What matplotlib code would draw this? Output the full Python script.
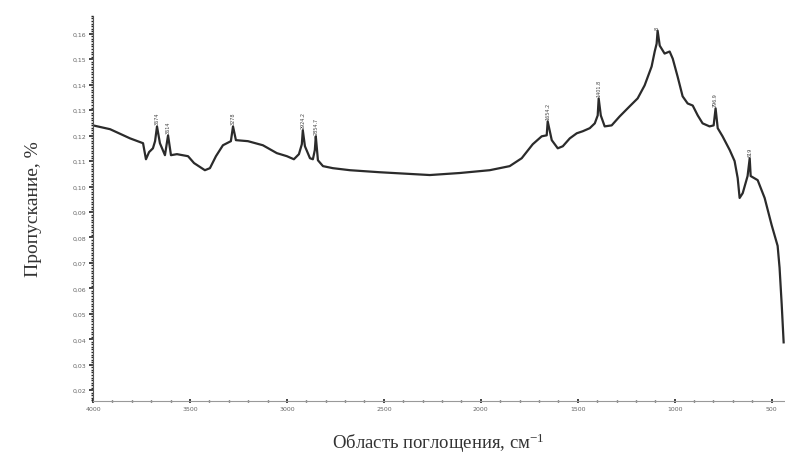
import numpy as np
import matplotlib
matplotlib.use("Agg")
import matplotlib.pyplot as plt
from matplotlib.ticker import MultipleLocator, FuncFormatter

plt.rcParams["mathtext.fontset"] = "custom"
plt.rcParams["mathtext.rm"] = "Liberation Serif"
plt.rcParams["mathtext.it"] = "Liberation Serif:italic"

# IR spectrum
wavenumber = [
    4000, 3912, 3809, 3742, 3727, 3711, 3691, 3680, 3670, 3655,
    3629, 3613, 3598, 3567, 3510, 3479, 3423, 3397, 3366, 3330,
    3289, 3278, 3263, 3201, 3124, 3052, 3000, 2964, 2938, 2923,
    2918, 2907, 2881, 2866, 2856, 2851, 2840, 2814, 2763, 2675,
    2521, 2263, 2108, 1954, 1851, 1789, 1732, 1686, 1660, 1655,
    1634, 1603, 1577, 1541, 1505, 1474, 1438, 1412, 1397, 1392,
    1381, 1361, 1325, 1284, 1232, 1191, 1155, 1119, 1103, 1093,
    1088, 1077, 1052, 1026, 1010, 985, 959, 933, 907, 881,
    856, 820, 799, 789, 778, 753, 716, 691, 675, 665,
    649, 624, 613, 608, 572, 536, 500, 469, 459, 448,
    438,
]
transmittance = [
    0.1240, 0.1225, 0.1189, 0.1170, 0.1107, 0.1135, 0.1150, 0.1178, 0.1236, 0.1170,
    0.1123, 0.1201, 0.1123, 0.1127, 0.1119, 0.1092, 0.1064, 0.1072, 0.1119, 0.1162,
    0.1178, 0.1236, 0.1182, 0.1178, 0.1162, 0.1131, 0.1119, 0.1107, 0.1127, 0.1166,
    0.1221, 0.1158, 0.1111, 0.1107, 0.1143, 0.1197, 0.1103, 0.1080, 0.1072, 0.1064,
    0.1056, 0.1045, 0.1053, 0.1064, 0.1080, 0.1111, 0.1166, 0.1197, 0.1201, 0.1256,
    0.1182, 0.1150, 0.1158, 0.1189, 0.1209, 0.1217, 0.1229, 0.1248, 0.1279, 0.1346,
    0.1279, 0.1236, 0.1240, 0.1275, 0.1315, 0.1346, 0.1397, 0.1471, 0.1530, 0.1561,
    0.1612, 0.1553, 0.1522, 0.1530, 0.1502, 0.1432, 0.1354, 0.1326, 0.1318, 0.1279,
    0.1248, 0.1236, 0.1240, 0.1307, 0.1229, 0.1197, 0.1143, 0.1100, 0.1033, 0.0955,
    0.0974, 0.1041, 0.1111, 0.1041, 0.1025, 0.0955, 0.0849, 0.0767, 0.0681, 0.0537,
    0.0388,
]

# labelled peaks
peak_pos = [3670, 3613, 3278, 2918, 2851, 1655, 1392, 1088, 789, 613]
peak_val = [0.1236, 0.1201, 0.1236, 0.1221, 0.1197, 0.1256, 0.1346, 0.1612, 0.1307, 0.1111]
peak_text = ["3674", "3614", "3278", "2924.2", "2854.7", "1654.2", "1401.8", "8", "796.9", "619"]

fig = plt.figure(figsize=(7.85, 4.56), dpi=100)
ax = fig.add_axes([0.1185, 0.118, 0.881, 0.845])

ax.plot(wavenumber, transmittance, color="#2b2b2b", lw=1.6)

for x, y, t in zip(peak_pos, peak_val, peak_text):
    ax.text(x, y + 0.0008, t, rotation=90, ha="center", va="bottom",
            fontsize=3.5, color="#444444")

ax.set_xlim(4000, 433)
ax.set_ylim(0.0157, 0.167)

for side in ("top", "right"):
    ax.spines[side].set_visible(False)
ax.spines["left"].set_color("#555555")
ax.spines["bottom"].set_color("#999999")

ax.xaxis.set_major_locator(MultipleLocator(500))
ax.xaxis.set_minor_locator(MultipleLocator(100))
ax.yaxis.set_major_locator(MultipleLocator(0.01))
ax.yaxis.set_minor_locator(MultipleLocator(0.001))
ax.yaxis.set_major_formatter(FuncFormatter(lambda v, p: f"{v:.2f}".replace(".", ",")))
ax.xaxis.set_major_formatter(FuncFormatter(lambda v, p: f"{v:.0f}"))

ax.tick_params(axis="both", which="major", labelsize=4.5, labelcolor="#666666",
               length=3, width=1.2, color="#222222", pad=2)
ax.tick_params(axis="both", which="minor", length=1.5, width=1.0, color="#222222")
ax.tick_params(axis="x", which="both", direction="inout")

ax.set_ylabel("Пропускание, %", family="Liberation Serif", fontsize=14,
              color="#333333", labelpad=22)
ax.set_xlabel("Область поглощения, см$^{-1}$", family="Liberation Serif",
              fontsize=13.5, color="#333333", labelpad=14)

fig.savefig("out.png", dpi=100)
